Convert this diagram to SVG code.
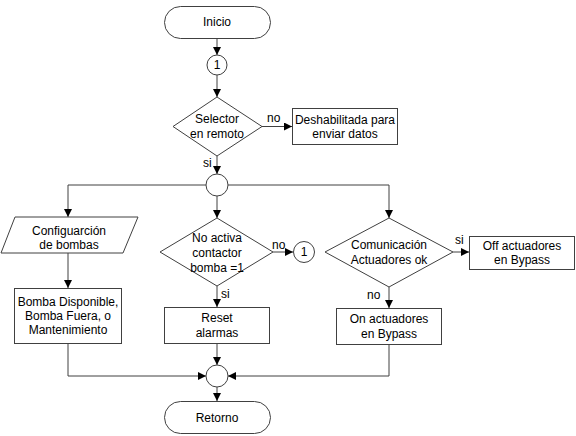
<svg xmlns="http://www.w3.org/2000/svg" width="576" height="436" viewBox="0 0 576 436">
<defs>
<marker id="ah" markerWidth="8" markerHeight="8" refX="8" refY="4" orient="auto" markerUnits="userSpaceOnUse">
<path d="M0,0 L8,4 L0,8 Z" fill="#000"/>
</marker>
<style>
.s{fill:#fff;stroke:#404040;stroke-width:1}
.t{font-family:"Liberation Sans",Arial,sans-serif;font-size:12px;fill:#000;text-anchor:middle}
.l{font-family:"Liberation Sans",Arial,sans-serif;font-size:12px;fill:#000}
.c{fill:none;stroke:#404040;stroke-width:1;marker-end:url(#ah)}
</style>
</defs>
<rect width="576" height="436" fill="#fff"/>
<g id="connectors">
<path class="c" d="M217,38 V55"/>
<path class="c" d="M217,75 V97"/>
<path class="c" d="M262,126.5 H292"/>
<path class="c" d="M217,156 V174"/>
<path class="c" d="M206,185 H68 V217"/>
<path class="c" d="M217,196 V218"/>
<path class="c" d="M228,185 H389 V218"/>
<path class="c" d="M68,253 V288"/>
<path class="c" d="M273,252 H293"/>
<path class="c" d="M217,286 V307"/>
<path class="c" d="M453,252 H469"/>
<path class="c" d="M389,287 V308"/>
<path class="c" d="M68,343 V376 H206"/>
<path class="c" d="M217,343 V365"/>
<path class="c" d="M389,344 V376 H228"/>
<path class="c" d="M217,387 V401"/>
<text class="l" x="267" y="122">no</text>
<text class="l" x="203" y="167">si</text>
<text class="l" x="272" y="249">no</text>
<text class="l" x="221" y="298">si</text>
<text class="l" x="455" y="244">si</text>
<text class="l" x="367" y="299">no</text>
</g>
<g id="inicio">
<rect class="s" x="164.5" y="6.5" width="106" height="32" rx="16"/>
<text class="t" x="217" y="26">Inicio</text>
</g>
<g id="conn1">
<circle class="s" cx="217" cy="65" r="10"/>
<text class="t" x="217" y="69">1</text>
</g>
<g id="selector">
<polygon class="s" points="217,97 262,126.5 217,156 173,126.5"/>
<text class="t" x="217" y="123">Selector</text>
<text class="t" x="217" y="138">en remoto</text>
</g>
<g id="deshabilitada">
<rect class="s" x="292.5" y="108.5" width="105" height="36"/>
<text class="t" x="345" y="124">Deshabilitada para</text>
<text class="t" x="345" y="138">enviar datos</text>
</g>
<g id="junction1">
<circle class="s" cx="217" cy="185" r="11"/>
</g>
<g id="configuracion">
<polygon class="s" points="15,217 138,217 123,253 1,253"/>
<text class="t" x="69" y="235">Configuarción</text>
<text class="t" x="69" y="249">de bombas</text>
</g>
<g id="bomba">
<rect class="s" x="14.5" y="288.5" width="107" height="55"/>
<text class="t" x="68" y="306">Bomba Disponible,</text>
<text class="t" x="68" y="320">Bomba Fuera, o</text>
<text class="t" x="68" y="334">Mantenimiento</text>
</g>
<g id="noactiva">
<polygon class="s" points="217,218 273,252 217,286 160,252"/>
<text class="t" x="217" y="242">No activa</text>
<text class="t" x="217" y="257">contactor</text>
<text class="t" x="217" y="272">bomba =1</text>
</g>
<g id="conn1b">
<circle class="s" cx="304" cy="252" r="10.5"/>
<text class="t" x="304" y="256">1</text>
</g>
<g id="reset">
<rect class="s" x="164.5" y="307.5" width="105" height="36"/>
<text class="t" x="217" y="322">Reset</text>
<text class="t" x="217" y="337">alarmas</text>
</g>
<g id="comunicacion">
<polygon class="s" points="389,218 453,252 389,287 325,252"/>
<text class="t" x="389" y="249">Comunicación</text>
<text class="t" x="389" y="264">Actuadores ok</text>
</g>
<g id="off">
<rect class="s" x="469.5" y="236.5" width="105" height="33"/>
<text class="t" x="522" y="250">Off actuadores</text>
<text class="t" x="522" y="264">en Bypass</text>
</g>
<g id="on">
<rect class="s" x="336.5" y="308.5" width="105" height="36"/>
<text class="t" x="389" y="323">On actuadores</text>
<text class="t" x="389" y="338">en Bypass</text>
</g>
<g id="junction2">
<circle class="s" cx="217" cy="376" r="11"/>
</g>
<g id="retorno">
<rect class="s" x="164.5" y="401.5" width="106" height="32" rx="16"/>
<text class="t" x="217" y="422">Retorno</text>
</g>
</svg>
